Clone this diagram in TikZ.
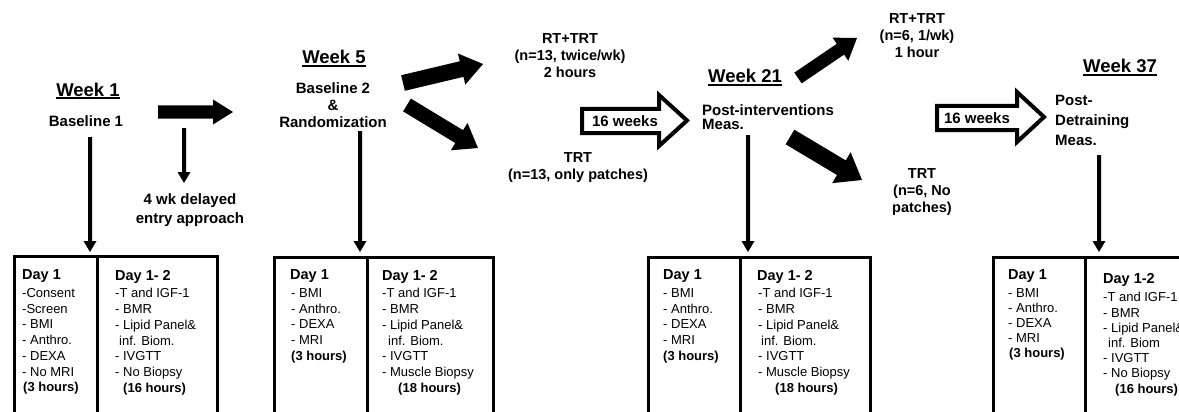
\documentclass[tikz,border=0pt]{standalone}
\usepackage{fontspec}
\setmainfont{Liberation Sans}
\usetikzlibrary{calc}
\newcommand\myul[1]{\setbox0=\hbox{#1}\leavevmode\rlap{\rule[-2.6pt]{\wd0}{1.6pt}}\box0}
\newcommand\blockarr[5]{%
  \coordinate (ba-m) at ($(#2)!#5!(#1)$);
  \fill ($(#1)!#3!90:(#2)$) -- ($(ba-m)!#3!-90:(#1)$) -- ($(ba-m)!#4!-90:(#1)$) -- (#2)
    -- ($(ba-m)!#4!90:(#1)$) -- ($(ba-m)!#3!90:(#1)$) -- ($(#1)!#3!-90:(#2)$) -- cycle;}
\begin{document}
\begin{tikzpicture}[x=1pt,y=-1pt,
  wk/.style={font=\bfseries\fontsize{18.5}{20}\selectfont, inner sep=0pt, anchor=base},
  lbl/.style={font=\bfseries\fontsize{15}{17}\selectfont, inner sep=0pt, align=center, anchor=north},
  day/.style={font=\bfseries\fontsize{14.5}{17}\selectfont, inner sep=0pt, anchor=north west},
  itm/.style={font=\fontsize{13}{15.7}\selectfont, inner sep=0pt, align=left, anchor=north west},
  boxline/.style={line width=3pt},
  hollow/.style={line width=4pt, fill=white, line join=miter}]
\useasboundingbox (0,0) rectangle (1179,412);
\clip (0,0) rectangle (1179,412);
\fill[white] (0,0) rectangle (1179,412);

% ---- Week titles
\node[wk] (w1) at (88,96) {\myul{Week 1}};
\node[wk] (w5) at (334,64) {\myul{Week 5}};
\node[wk] (w21) at (745,83) {\myul{Week 21}};
\node[wk] (w37) at (1120,73) {\myul{Week 37}};

% ---- labels
\node[lbl, anchor=base] (b1) at (86,126.5) {Baseline 1};
\node[lbl, font=\bfseries\fontsize{15}{19}\selectfont] (delay) at (190,193) {4 wk delayed\\entry approach};
\node[lbl] (b2) at (333,82) {Baseline 2\\\&\\Randomization};
\node[lbl, font=\bfseries\fontsize{14.5}{17}\selectfont] (rt1) at (570,33.5) {RT+TRT\\(n=13, twice/wk)\\2 hours};
\node[lbl, font=\bfseries\fontsize{14.5}{17}\selectfont] (trt1) at (578,152) {TRT\\(n=13, only patches)};
\node[lbl, align=left, anchor=north west, font=\bfseries\fontsize{15}{13.5}\selectfont] (post) at (702,104.5) {Post-interventions\\Meas.};
\node[lbl, font=\bfseries\fontsize{14.5}{17}\selectfont] (rt2) at (917,13) {RT+TRT\\(n=6, 1/wk)\\1 hour};
\node[lbl, font=\bfseries\fontsize{14.5}{17}\selectfont] (trt2) at (922,168.5) {TRT\\(n=6, No\\patches)};
\node[lbl, align=left, anchor=north west, font=\bfseries\fontsize{15}{19.8}\selectfont] (detr) at (1055,95) {Post-\\Detraining\\Meas.};

% ---- hollow "16 weeks" arrows
\draw[hollow] (582,109) -- (659,109) -- (659,95) -- (687,120.5) -- (659,146) -- (659,133) -- (582,133) -- cycle;
\node[lbl, anchor=center] (sw1) at (625,121) {16 weeks};
\draw[hollow] (937,106) -- (1017,106) -- (1017,92) -- (1044,117) -- (1017,142) -- (1017,130) -- (937,130) -- cycle;
\node[lbl, anchor=center] (sw2) at (977,118) {16 weeks};

% ---- block arrows
\coordinate (h1s) at (158,112); \coordinate (h1e) at (233,112);
\blockarr{h1s}{h1e}{6.5pt}{12.5pt}{20pt}
\coordinate (u1s) at (403,83); \coordinate (u1e) at (483,64);
\blockarr{u1s}{u1e}{8pt}{16pt}{22pt}
\coordinate (d1s) at (407,105); \coordinate (d1e) at (478,148);
\blockarr{d1s}{d1e}{7.5pt}{16pt}{22pt}
\coordinate (u2s) at (798,78); \coordinate (u2e) at (857,38);
\blockarr{u2s}{u2e}{6.5pt}{14pt}{20pt}
\coordinate (d2s) at (790,137); \coordinate (d2e) at (862,180);
\blockarr{d2s}{d2e}{8.5pt}{18pt}{24pt}

% ---- thin vertical arrows
\coordinate (v1s) at (90,137); \coordinate (v1e) at (90,252);
\blockarr{v1s}{v1e}{2pt}{6.5pt}{11pt}
\coordinate (v0s) at (184,128); \coordinate (v0e) at (184,183);
\blockarr{v0s}{v0e}{2pt}{6.5pt}{11pt}
\coordinate (v5s) at (360,131); \coordinate (v5e) at (360,252);
\blockarr{v5s}{v5e}{2pt}{6.5pt}{11pt}
\coordinate (v21s) at (748,135); \coordinate (v21e) at (748,252);
\blockarr{v21s}{v21e}{2pt}{6.5pt}{11pt}
\coordinate (v37s) at (1099,155); \coordinate (v37e) at (1099,252);
\blockarr{v37s}{v37e}{2pt}{6.5pt}{11pt}

% ---- boxes
\draw[boxline] (14,412) |- (217,256) -- (217,412);
\draw[boxline] (97,256) -- (97,412);
\draw[boxline] (274,412) |- (493,257) -- (493,412);
\draw[boxline] (367,257) -- (367,412);
\draw[boxline] (648,412) |- (870,257) -- (870,412);
\draw[boxline] (740,257) -- (740,412);
\draw[boxline] (993,412) |- (1190,257);
\draw[boxline] (1085,257) -- (1085,412);

% box 1
\node[day] (d11) at (22,269.8) {Day 1};
\node[itm] (i11) at (22,288.3) {-Consent\\-Screen\\- BMI\\- Anthro.\\- DEXA\\- No MRI\\\hspace*{1pt}\textbf{(3 hours)}};
\node[day] (d12) at (115,269.8) {Day 1- 2};
\node[itm] (i12) at (115,288.3) {-T and IGF-1\\- BMR\\- Lipid Panel\&\\\hspace*{4pt}inf. Biom.\\- IVGTT\\- No Biopsy\\\hspace*{8pt}\textbf{(16 hours)}};
% box 2
\node[day] (d21) at (290,269.8) {Day 1};
\node[itm] (i21) at (291,288.3) {- BMI\\- Anthro.\\- DEXA\\- MRI\\\textbf{(3 hours)}};
\node[day] (d22) at (382,269.8) {Day 1- 2};
\node[itm] (i22) at (382,288.3) {-T and IGF-1\\- BMR\\- Lipid Panel\&\\\hspace*{6pt}inf. Biom.\\- IVGTT\\- Muscle Biopsy\\\hspace*{16pt}\textbf{(18 hours)}};
% box 3
\node[day] (d31) at (663,269.8) {Day 1};
\node[itm] (i31) at (663,288.3) {- BMI\\- Anthro.\\- DEXA\\- MRI\\\textbf{(3 hours)}};
\node[day] (d32) at (757,269.8) {Day 1- 2};
\node[itm] (i32) at (758,288.3) {-T and IGF-1\\- BMR\\- Lipid Panel\&\\\hspace*{3pt}inf. Biom.\\- IVGTT\\- Muscle Biopsy\\\hspace*{17pt}\textbf{(18 hours)}};
% box 4
\node[day] (d41) at (1008,269.8) {Day 1};
\node[itm, font=\fontsize{13}{15}\selectfont] (i41) at (1008,288.3) {- BMI\\- Anthro.\\- DEXA\\- MRI\\\hspace*{1pt}\textbf{(3 hours)}};
\node[day] (d42) at (1103,272.8) {Day 1-2};
\node[itm, font=\fontsize{13}{15.2}\selectfont] (i42) at (1103,292.3) {-T and IGF-1\\- BMR\\- Lipid Panel\&\\\hspace*{5pt}inf. Biom\\- IVGTT\\- No Biopsy\\\hspace*{12pt}\textbf{(16 hours)}};
\end{tikzpicture}
\end{document}
